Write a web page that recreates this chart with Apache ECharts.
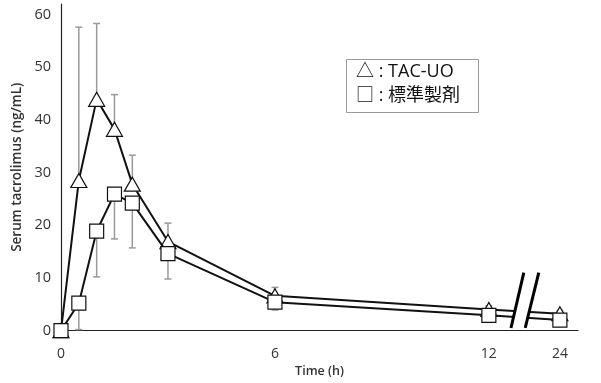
<!DOCTYPE html>
<html>
<head>
<meta charset="utf-8">
<script src="https://cdn.jsdelivr.net/npm/echarts@6/dist/echarts.min.js"></script>
<style>
  html, body { margin: 0; padding: 0; background: #fff; }
  #chart { width: 601px; height: 383px; }
</style>
</head>
<body>
<div id="chart"></div>
<script>
// sampling times (h) and mean / SD values
var hours = [0, 0.5, 1, 1.5, 2, 3, 6, 12, 24];
var tacUO = [0, 28.5, 43.9, 38.2, 27.8, 16.9, 6.6, 4.0, 3.2];
var tacUOSd = [0, 29.1, 14.4, 6.6, 5.5, 3.5, 1.6, 0.7, 0.6];
var standard = [0, 5.2, 18.9, 25.9, 24.2, 14.6, 5.4, 2.9, 2.0];
var standardSd = [0, 5.0, 8.7, 8.5, 8.5, 4.8, 1.5, 0.4, 0.4];
var seriesNames = ['TAC-UO', '標準製剤'];
var xTicks = [0, 6, 12, 24];
var yTicks = [0, 10, 20, 30, 40, 50, 60];

// broken time axis: after 12 h the scale is compressed
function breakScale(t) {
    return t <= 12 ? t : 12 + (t - 12) * 0.166;
}

var font = '"Open Sans", "Noto Sans CJK JP", sans-serif';

function pairs(vals) {
    return hours.map(function (h, i) { return [breakScale(h), vals[i]]; });
}

function errData(vals, sds, dir) {
    return hours.map(function (h, i) { return [breakScale(h), vals[i], sds[i], dir]; });
}

function errRender(params, api) {
    var x = api.value(0), y = api.value(1), sd = api.value(2), dir = api.value(3);
    if (!sd) return;
    var p0 = api.coord([x, y]);
    var p1 = api.coord([x, y + dir * sd]);
    var st = { stroke: '#9a9a9a', lineWidth: 1.5 };
    return {
        type: 'group',
        children: [
            { type: 'line', shape: { x1: p0[0], y1: p0[1], x2: p1[0], y2: p1[1] }, style: st },
            { type: 'line', shape: { x1: p1[0] - 3.5, y1: p1[1], x2: p1[0] + 3.5, y2: p1[1] }, style: st }
        ]
    };
}

var myChart = echarts.init(document.getElementById('chart'));

var option = {
    animation: false,
    backgroundColor: '#fff',
    grid: { left: 61, right: 23, top: 4, bottom: 44 },
    xAxis: {
        type: 'value',
        min: 0,
        max: 14.5,
        name: 'Time (h)',
        nameLocation: 'middle',
        nameGap: 29,
        nameTextStyle: { fontFamily: font, fontSize: 12.5, fontWeight: 600, color: '#333' },
        axisLine: { lineStyle: { color: '#222', width: 1.2 } },
        axisTick: { show: false },
        splitLine: { show: false },
        axisLabel: {
            customValues: xTicks.map(breakScale),
            formatter: function (v) { return v > 12 ? '24' : String(Math.round(v)); },
            fontFamily: font, fontSize: 14, color: '#333', margin: 16
        }
    },
    yAxis: {
        type: 'value',
        min: 0,
        max: 62,
        name: 'Serum tacrolimus (ng/mL)',
        nameLocation: 'middle',
        nameGap: 37,
        nameTextStyle: { fontFamily: font, fontSize: 13.5, fontWeight: 600, color: '#333' },
        axisLine: { show: true, lineStyle: { color: '#222', width: 1.2 } },
        axisTick: { show: false },
        splitLine: { show: false },
        axisLabel: {
            customValues: yTicks,
            fontFamily: font, fontSize: 14.5, color: '#333', margin: 10
        }
    },
    series: [
        {
            type: 'custom',
            renderItem: errRender,
            data: errData(tacUO, tacUOSd, 1),
            z: 1,
            silent: true
        },
        {
            type: 'custom',
            renderItem: errRender,
            data: errData(standard, standardSd, -1),
            z: 1,
            silent: true
        },
        {
            name: seriesNames[0],
            type: 'line',
            data: pairs(tacUO),
            symbol: 'triangle',
            symbolSize: [16, 14],
            showAllSymbol: true,
            lineStyle: { color: '#111', width: 2 },
            itemStyle: { color: '#fff', borderColor: '#111', borderWidth: 1.2 },
            z: 3
        },
        {
            name: seriesNames[1],
            type: 'line',
            data: pairs(standard),
            symbol: 'rect',
            symbolSize: 14,
            showAllSymbol: true,
            lineStyle: { color: '#111', width: 2 },
            itemStyle: { color: '#fff', borderColor: '#111', borderWidth: 1.2 },
            z: 4
        }
    ]
};

myChart.setOption(option);

// axis-break slashes and legend box
var b1 = myChart.convertToPixel({ gridIndex: 0 }, [12.62, 0.5]);
var t1 = myChart.convertToPixel({ gridIndex: 0 }, [12.98, 11]);
var b2 = myChart.convertToPixel({ gridIndex: 0 }, [13.02, 0.5]);
var t2 = myChart.convertToPixel({ gridIndex: 0 }, [13.40, 11]);

myChart.setOption({
    graphic: [
        {
            type: 'polygon', z: 10,
            shape: { points: [[b1[0] + 1, b1[1]], [t1[0] + 1, t1[1]], [t2[0] - 1, t2[1]], [b2[0] - 1, b2[1]]] },
            style: { fill: '#fff' }
        },
        {
            type: 'line', z: 11,
            shape: { x1: b1[0], y1: b1[1], x2: t1[0], y2: t1[1] },
            style: { stroke: '#000', lineWidth: 3 }
        },
        {
            type: 'line', z: 11,
            shape: { x1: b2[0], y1: b2[1], x2: t2[0], y2: t2[1] },
            style: { stroke: '#000', lineWidth: 3 }
        },
        {
            type: 'rect', z: 12,
            shape: { x: 346.5, y: 59.5, width: 132, height: 53 },
            style: { fill: '#fff', stroke: '#999', lineWidth: 1 }
        },
        {
            type: 'text', z: 13, left: 356, top: 63,
            style: { text: '△ : ' + seriesNames[0], fontFamily: font, fontSize: 18, fill: '#111' }
        },
        {
            type: 'text', z: 13, left: 356, top: 87,
            style: { text: '□ : ' + seriesNames[1], fontFamily: font, fontSize: 18, fill: '#111' }
        }
    ]
});
</script>
</body>
</html>
